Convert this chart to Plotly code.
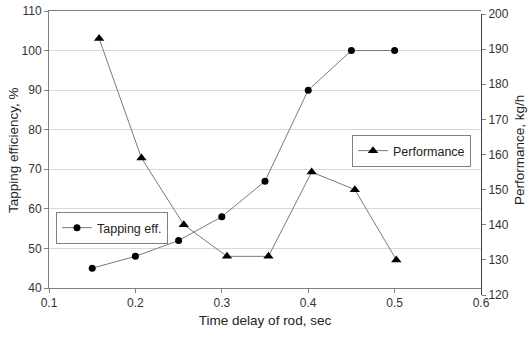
import plotly.graph_objects as go

time_eff = [0.15, 0.2, 0.25, 0.3, 0.35, 0.4, 0.45, 0.5]
tapping_eff = [45, 48, 52, 58, 67, 90, 100, 100]
time_perf = [0.158, 0.207, 0.256, 0.306, 0.354, 0.404, 0.454, 0.502]
performance = [193, 159, 140, 131, 131, 155, 150, 130]

x_ticks = [0.1, 0.2, 0.3, 0.4, 0.5, 0.6]
y_ticks = [40, 50, 60, 70, 80, 90, 100, 110]
y2_ticks = [120, 130, 140, 150, 160, 170, 180, 190, 200]

font = "Liberation Sans, Arial, sans-serif"
W, H = 530, 339
L, R, T, B = 49, 49, 11, 44
pw = W - L - R
ph = H - T - B

fig = go.Figure()
fig.add_trace(go.Scatter(
    x=time_perf, y=performance, name="Performance", mode="lines+markers",
    line=dict(color="#7a7a7a", width=1),
    marker=dict(symbol="triangle-up", size=9, color="black"),
    xaxis="x2", yaxis="y2", legend="legend2", showlegend=True))
fig.add_trace(go.Scatter(
    x=time_eff, y=tapping_eff, name="Tapping eff.", mode="lines+markers",
    line=dict(color="#7a7a7a", width=1),
    marker=dict(symbol="circle", size=7, color="black"),
    xaxis="x", yaxis="y", legend="legend", showlegend=True))

axis_font = dict(family=font, size=12, color="#333333")
title_font = dict(family=font, size=13.5, color="#222222")
fig.update_layout(
    width=W, height=H, showlegend=True,
    margin=dict(l=L, r=R, t=T, b=B, autoexpand=False),
    paper_bgcolor="white", plot_bgcolor="rgba(0,0,0,0)",
    font=dict(family=font, size=12, color="#222222"),
    xaxis=dict(range=[0.1, 0.6], tickvals=x_ticks, ticktext=[str(v) for v in x_ticks],
               showgrid=False, zeroline=False, showline=True, linecolor="#808080",
               linewidth=1, mirror=True, ticks="outside", ticklen=4, tickcolor="#808080",
               tickfont=axis_font, anchor="y", automargin=False,
               title=dict(text="Time delay of rod, sec", font=title_font, standoff=6)),
    yaxis=dict(range=[40, 110], tickvals=y_ticks, domain=[7 / ph, 1],
               showgrid=True, gridcolor="#d9d9d9", gridwidth=1, zeroline=False, showline=True,
               linecolor="#808080", linewidth=1, ticks="outside", ticklen=4, tickcolor="#808080",
               tickfont=axis_font, anchor="x", automargin=False),
    xaxis2=dict(range=[0.1, 0.6], visible=False, anchor="y2", automargin=False),
    yaxis2=dict(range=[120, 200], tickvals=y2_ticks, domain=[0, 1 - 3 / ph],
                side="right", anchor="x2", showgrid=False, zeroline=False,
                showline=True, linecolor="#404040", linewidth=1, ticks="outside",
                ticklen=4, tickcolor="#808080", tickfont=axis_font, automargin=False),
    legend=dict(x=(56 - L) / pw, y=(H - B - 212) / ph, xanchor="left", yanchor="top",
                bgcolor="white", bordercolor="#808080", borderwidth=1,
                font=dict(family=font, size=12.5, color="#222222")),
    legend2=dict(x=(352 - L) / pw, y=(H - B - 135) / ph, xanchor="left", yanchor="top",
                 bgcolor="white", bordercolor="#808080", borderwidth=1,
                 font=dict(family=font, size=12.5, color="#222222")),
    annotations=[
        dict(text="Tapping efficiency, %", textangle=-90, xref="paper", yref="paper",
             x=(13 - L) / pw, y=(H - B - 150) / ph, xanchor="center", yanchor="middle",
             showarrow=False, font=title_font),
        dict(text="Performance, kg/h", textangle=-90, xref="paper", yref="paper",
             x=(519 - L) / pw, y=(H - B - 150) / ph, xanchor="center", yanchor="middle",
             showarrow=False, font=title_font),
    ],
)

fig.write_html("out.html", config={"displayModeBar": False},
               post_script="document.body.style.margin='0';")
